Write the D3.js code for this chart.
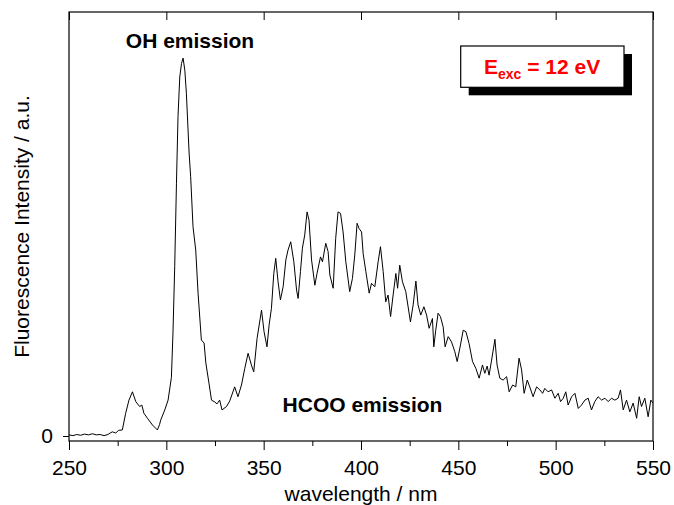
<!DOCTYPE html>
<html>
<head>
<meta charset="utf-8">
<script src="https://cdn.jsdelivr.net/npm/d3@7"></script>
<style>
  body { margin: 0; background: #fff; }
  svg { display: block; }
  text { font-family: "Liberation Sans", Arial, Helvetica, sans-serif; }
</style>
</head>
<body>
<div id="chart"></div>
<script>
// spectrum (wavelength in nm, intensity in a.u., OH peak = 100)
const wavelength = [
  250, 252, 254, 256, 258, 260, 262, 264, 266, 268, 270, 271.5, 272.3, 274, 275.5, 277.4,
  279.1, 280.8, 282.6, 284.3, 286.3, 287.4, 288.5, 290.3, 292.9, 295.4, 296.5, 297.1, 299.2,
  300.9, 302.6, 303.4, 304.3, 305.2, 306.0, 306.9, 307.8, 308.6, 309.5, 310.3, 311.7, 312.5,
  313.7, 315.1, 316.3, 318.0, 319.4, 320.3, 321.9, 323.2, 324.9, 326.0, 327.4, 328.6, 330.9,
  332.6, 335.1, 336.8, 338.6, 340.3, 342.0, 343.7, 344.9, 346.6, 348.9, 350.2, 351.7, 352.8,
  354.0, 355.2, 356.2, 357.4, 358.6, 360.0, 361.4, 362.5, 363.9, 365.5, 366.9, 367.7, 368.9,
  369.9, 371.1, 372.3, 373.3, 374.6, 376.3, 377.4, 379.2, 380.2, 381.9, 383.1, 384.0, 385.7,
  387.0, 388.2, 389.5, 390.8, 392.2, 394.2, 395.6, 396.8, 398.0, 399.0, 400.3, 401.1, 402.5,
  404.2, 405.4, 407.1, 408.8, 410.0, 411.4, 412.7, 413.9, 415.2, 416.5, 417.9, 418.8, 419.9,
  421.3, 423.0, 425.4, 426.8, 428.2, 429.3, 430.7, 432.3, 433.7, 435.0, 436.7, 437.4, 438.4,
  439.6, 440.8, 442.2, 443.2, 444.8, 446.5, 448.2, 449.4, 451.1, 452.5, 453.9, 455.5, 457.3,
  459.0, 460.7, 462.4, 463.6, 464.8, 465.8, 467.1, 468.8, 469.9, 471.3, 473.0, 474.8, 476.1,
  477.9, 479.5, 481.2, 482.5, 483.8, 485.4, 486.7, 488.4, 490.2, 491.9, 493.3, 494.4, 496.1,
  497.9, 499.6, 501.3, 502.5, 503.9, 505.2, 506.4, 508.2, 509.9, 511.6, 513.3, 515.0, 516.7,
  518.4, 520.1, 521.8, 523.6, 525.3, 527.0, 528.7, 530.4, 532.1, 533.3, 534.7, 536.4, 538.1,
  539.8, 541.6, 542.9, 544.1, 545.8, 547.5, 548.9, 550
];
const intensity = [
  0.3, 0.1, 0.4, 0.2, 0.5, 0.3, 0.6, 0.3, 0.4, 0.1, 0.4, 0.9, 1.1, 0.8, 1.5, 1.6,
  6.0, 9.5, 11.7, 9.1, 7.8, 8.2, 6.0, 4.7, 2.9, 1.6, 3.0, 4.2, 6.9,
  9.5, 15.5, 27.0, 44.8, 66.9, 84.5, 95.0, 98.6, 100, 96.8, 90.7, 74.9, 68.6,
  55.4, 49.2, 37.8, 25.4, 24.6, 19.3, 14.0, 9.5, 9.0, 8.5, 9.5, 6.9, 7.8,
  9.3, 13.0, 10.4, 13.5, 17.9, 21.9, 18.8, 17.0, 25.8, 33.3, 27.6, 23.6, 29.4,
  33.8, 43.0, 47.0, 40.8, 36.0, 39.5, 46.6, 49.2, 51.4, 46.1, 38.6, 36.4, 43.5,
  49.7, 53.2, 59.3, 57.1, 46.6, 39.9, 43.0, 47.4, 46.1, 51.0, 48.8, 42.6, 39.1,
  52.3, 59.3, 58.9, 54.0, 46.1, 38.2, 41.7, 47.9, 56.3, 54.9, 54.0, 48.3, 43.5,
  37.8, 40.4, 39.5, 46.1, 50.1, 43.5, 35.5, 37.3, 31.6, 37.3, 43.0, 39.1, 45.2,
  40.8, 38.2, 30.2, 34.7, 41.0, 34.7, 32.0, 34.2, 32.0, 28.5, 31.1, 23.6, 28.0,
  32.5, 31.6, 28.9, 23.6, 26.3, 24.9, 22.3, 19.7, 24.1, 28.0, 27.6, 24.5, 19.7,
  17.9, 15.3, 18.8, 16.6, 18.5, 16.1, 20.1, 25.6, 18.8, 15.3, 14.8, 15.7, 11.7,
  13.5, 13.0, 20.6, 17.5, 11.3, 14.8, 13.0, 10.4, 13.0, 12.2, 11.3, 12.6, 11.7,
  12.2, 10.0, 11.3, 9.1, 10.0, 11.7, 8.2, 10.4, 11.3, 7.3, 8.2, 9.5, 10.0,
  6.9, 9.1, 10.4, 9.5, 10.0, 9.1, 10.0, 9.5, 10.0, 12.2, 6.9, 9.5, 6.4,
  8.7, 4.7, 10.4, 7.8, 10.0, 5.1, 9.5, 8.7
];
const xMajorTicks = [250, 300, 350, 400, 450, 500, 550];
const xMinorTicks = [275, 325, 375, 425, 475, 525];
const yTicks = [0];

const width = 674;
const height = 505;
const margin = { top: 12, right: 21, bottom: 64, left: 69 };
const fontSize = 21;

const svg = d3.select('#chart').append('svg')
  .attr('width', width)
  .attr('height', height);

const x = d3.scaleLinear().domain([250, 550]).range([margin.left, width - margin.right]);
const y = d3.scaleLinear().domain([-1.32, 112.2]).range([height - margin.bottom, margin.top]);

// bottom axis: major + minor ticks pointing out
const bottomAxis = svg.append('g')
  .attr('transform', `translate(0,${height - margin.bottom})`)
  .call(d3.axisBottom(x).tickValues(xMajorTicks).tickSize(9).tickPadding(10));
bottomAxis.select('.domain').remove();
bottomAxis.selectAll('text').attr('font-size', fontSize).attr('font-family', null).attr('fill', '#000');
bottomAxis.selectAll('line').attr('stroke', '#000');

const bottomMinor = svg.append('g')
  .attr('transform', `translate(0,${height - margin.bottom})`)
  .call(d3.axisBottom(x).tickValues(xMinorTicks).tickSize(5).tickFormat(''));
bottomMinor.select('.domain').remove();

// top axis: major ticks pointing in
const topAxis = svg.append('g')
  .attr('transform', `translate(0,${margin.top})`)
  .call(d3.axisTop(x).tickValues(xMajorTicks).tickSize(-8).tickFormat(''));
topAxis.select('.domain').remove();

// left axis: only the zero tick
const leftAxis = svg.append('g')
  .attr('transform', `translate(${margin.left},0)`)
  .call(d3.axisLeft(y).tickValues(yTicks).tickSize(6).tickPadding(10));
leftAxis.select('.domain').remove();
leftAxis.selectAll('text').attr('font-size', fontSize).attr('font-family', null).attr('fill', '#000');

// spectrum
const points = wavelength.map((w, i) => [w, intensity[i]]);
svg.append('path')
  .datum(points)
  .attr('fill', 'none')
  .attr('stroke', '#000')
  .attr('stroke-width', 1)
  .attr('stroke-linejoin', 'round')
  .attr('d', d3.line().x(d => x(d[0])).y(d => y(d[1])));

// frame
svg.append('rect')
  .attr('x', margin.left)
  .attr('y', margin.top)
  .attr('width', width - margin.left - margin.right)
  .attr('height', height - margin.top - margin.bottom)
  .attr('fill', 'none')
  .attr('stroke', '#000')
  .attr('stroke-width', 1.2);

// annotations
svg.append('text')
  .attr('x', 190).attr('y', 48)
  .attr('text-anchor', 'middle')
  .attr('font-size', fontSize).attr('font-weight', 'bold')
  .text('OH emission');
svg.append('text')
  .attr('x', 362.5).attr('y', 412)
  .attr('text-anchor', 'middle')
  .attr('font-size', fontSize).attr('font-weight', 'bold')
  .text('HCOO emission');

// excitation energy box with drop shadow
const box = { x: 460.7, y: 46, w: 163.3, h: 41.3, shadow: 8 };
svg.append('rect')
  .attr('x', box.x + box.shadow).attr('y', box.y + box.shadow)
  .attr('width', box.w).attr('height', box.h)
  .attr('fill', '#000');
svg.append('rect')
  .attr('x', box.x).attr('y', box.y)
  .attr('width', box.w).attr('height', box.h)
  .attr('fill', '#fff').attr('stroke', '#000').attr('stroke-width', 1.2);
const eText = svg.append('text')
  .attr('x', 484).attr('y', 73.5)
  .attr('font-size', fontSize).attr('font-weight', 'bold')
  .attr('fill', '#ff0000');
eText.append('tspan').text('E');
eText.append('tspan').attr('font-size', 14).attr('dy', 5).text('exc');
eText.append('tspan').attr('dy', -5).text(' = 12 eV');

// axis titles
svg.append('text')
  .attr('x', (margin.left + width - margin.right) / 2)
  .attr('y', 501)
  .attr('text-anchor', 'middle')
  .attr('font-size', fontSize)
  .text('wavelength / nm');
svg.append('text')
  .attr('transform', `translate(29,${(margin.top + height - margin.bottom) / 2}) rotate(-90)`)
  .attr('text-anchor', 'middle')
  .attr('font-size', fontSize)
  .text('Fluorescence Intensity / a.u.');
</script>
</body>
</html>
